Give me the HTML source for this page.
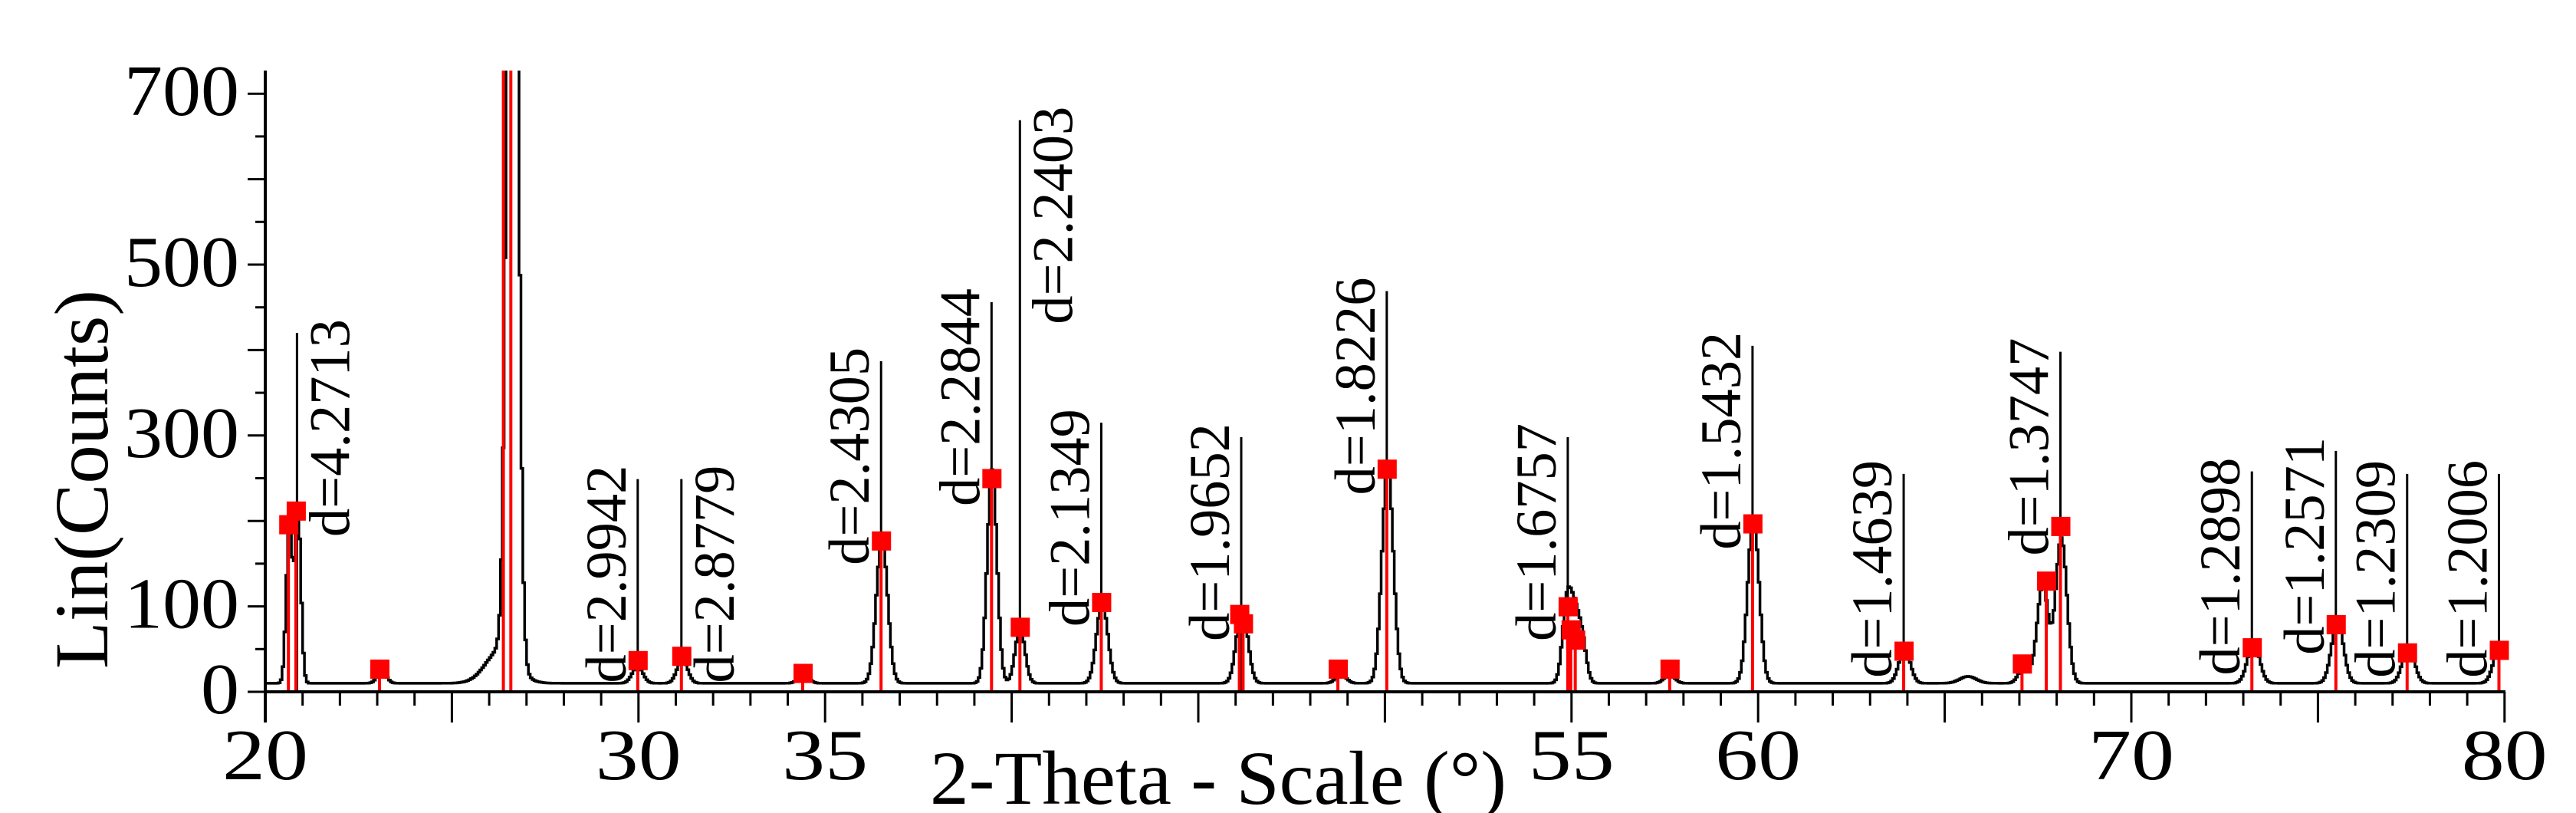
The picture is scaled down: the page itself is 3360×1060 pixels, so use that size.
<!DOCTYPE html>
<html><head><meta charset="utf-8"><style>
html,body{margin:0;padding:0;background:#fff;}
svg{display:block;}
text{font-family:"Liberation Serif",serif;fill:#000;}
</style></head><body>
<svg id="chart" width="3360" height="1060" viewBox="0 0 3360 1060" xmlns="http://www.w3.org/2000/svg">
<defs><clipPath id="plotclip"><rect x="340" y="92" width="2940" height="830"/></clipPath></defs>
<g id="dlines"></g>
<g id="curve" clip-path="url(#plotclip)"></g>
<g id="markers" clip-path="url(#plotclip)"></g>
<g id="axes"></g>
<text transform="translate(140,625) rotate(-90)" text-anchor="middle" font-size="100" textLength="494" lengthAdjust="spacingAndGlyphs">Lin(Counts)</text>
<text x="1213" y="1048" font-size="100" textLength="752" lengthAdjust="spacingAndGlyphs">2-Theta - Scale (°)</text>
</svg>
<script>
// ---- data ----
const peakPos    = [20.62,20.85,23.1,26.6,26.3,29.95,31.15,34.4,36.5,39.45,40.2,42.4,46.15,48.8,50.05,54.85,55.05,55.25,57.6,59.85,63.9,65.6,67.1,67.6,68.1,73.25,75.5,77.4,79.85];
const peakHeight = [185,205,15,1500,40,20,28,10,170,250,65,95,90,10,255,90,65,50,10,195,40,8,20,115,170,48,72,42,45];
const peakWidth  = [0.08,0.08,0.12,0.13,0.4,0.14,0.14,0.14,0.15,0.13,0.13,0.15,0.15,0.14,0.15,0.12,0.12,0.12,0.14,0.15,0.15,0.22,0.14,0.15,0.15,0.16,0.16,0.16,0.16];
const backgroundLevel = [10];
const markerPos    = [20.62,20.82,23.06,26.38,26.58,29.98,31.15,34.4,36.5,39.46,40.22,42.4,46.1,46.2,48.74,50.05,54.9,54.98,55.1,57.63,59.85,63.9,67.07,67.72,68.1,73.23,75.48,77.39,79.85];
const markerHeight = [196,212,27,900,900,37,42,22,177,250,76,105,91,80,27,261,100,73,61,27,197,48,33,130,194,52,79,46,49];
const dLabels = ["d=4.2713","d=2.9942","d=2.8779","d=2.4305","d=2.2844","d=2.2403","d=2.1349","d=1.9652","d=1.8226","d=1.6757","d=1.5432","d=1.4639","d=1.3747","d=1.2898","d=1.2571","d=1.2309","d=1.2006"];
const dPos = [20.85,29.98,31.15,36.5,39.46,40.22,42.4,46.15,50.05,54.9,59.85,63.9,68.1,73.23,75.48,77.39,79.85];
const dTop = [420,249,249,387,456,669,315,298,469,298,405,255,398,258,282,255,255];
const dSide = ["right","left","right","left","left","right","left","left","left","left","left","left","left","left","left","left","left"];
const xTickLabels = [20,30,35,55,60,70,80];
const yTickLabels = [0,100,300,500,700];
// ---- scales ----
const X = v => 346 + (v - 20) * 48.68;
const Y = c => 902 - c * 1.114;
const NS = "http://www.w3.org/2000/svg";
function mk(tag, attrs, parent){ const e=document.createElementNS(NS,tag); for(const k in attrs) e.setAttribute(k,attrs[k]); parent.appendChild(e); return e; }
// curve
const curveG = document.getElementById('curve');
let d = "";
for (let v = 20; v <= 80.001; v += 0.05) {
  let c = backgroundLevel[0];
  for (let i = 0; i < peakPos.length; i++) { const z=(v-peakPos[i])/peakWidth[i]; c += peakHeight[i]*Math.exp(-0.5*z*z); }
  const y = Math.max(Y(c), 80).toFixed(1);
  if (d === "") d = `M${X(v).toFixed(1)},${y}`; else d += ` H${X(v).toFixed(1)} V${y}`;
}
const cp = mk('path', {d:d, fill:'none', stroke:'#000', 'stroke-width':3.5}, curveG);


// d annotations
const dG = document.getElementById('dlines');
for (let i = 0; i < dLabels.length; i++) {
  const x = X(dPos[i]);
  const ln = mk('line', {x1:x, x2:x, y1:Y(0), y2:Y(dTop[i]), stroke:'#000', 'stroke-width':3}, dG);
  
  
  const bx = dSide[i] === 'right' ? x + 68 : x - 16;
  const t = mk('text', {transform:`translate(${bx.toFixed(1)},${(Y(dTop[i]) - 18).toFixed(1)}) rotate(-90)`, 'text-anchor':'end', 'font-size':75, textLength:284, lengthAdjust:'spacingAndGlyphs'}, dG);
  t.textContent = dLabels[i];
  
  
}
// markers
const mG = document.getElementById('markers');
for (let i = 0; i < markerPos.length; i++) {
  const x = X(markerPos[i]), y = Y(markerHeight[i]);
  const l = mk('line', {x1:x, x2:x, y1:Y(0), y2:y, stroke:'#f00', 'stroke-width':4}, mG);
  
  
  const r = mk('rect', {x:x-12, y:y-12, width:25, height:25, fill:'#f00'}, mG);
  
  
}
// axes
const aG = document.getElementById('axes');
const xa = mk('line', {x1:344, x2:3268, y1:902, y2:902, stroke:'#000', 'stroke-width':4}, aG);


const ya = mk('line', {x1:346, x2:346, y1:92, y2:942, stroke:'#000', 'stroke-width':4}, aG);


for (let v = 21; v <= 80; v++) {
  const major = v % 5 === 0;
  const tk = mk('line', {x1:X(v), x2:X(v), y1:902, y2:major ? 942 : 920, stroke:'#000', 'stroke-width':3}, aG);
  
  
}
xTickLabels.forEach(v => {
  const s = String(v);
  const t = mk('text', {x:X(v), y:1016, 'text-anchor':'middle', 'font-size':94, textLength:s.length*56, lengthAdjust:'spacingAndGlyphs'}, aG);
  t.textContent = s;
  
  
});
for (let c = 0; c <= 700; c += 50) {
  const major = c % 100 === 0;
  const tk = mk('line', {x1:major ? 323 : 333, x2:346, y1:Y(c), y2:Y(c), stroke:'#000', 'stroke-width':3}, aG);
  
  
}
yTickLabels.forEach(c => {
  const s = String(c);
  const t = mk('text', {x:312, y:Y(c) + 28, 'text-anchor':'end', 'font-size':94, textLength:s.length*50, lengthAdjust:'spacingAndGlyphs'}, aG);
  t.textContent = s;
  
  
});
</script>
</body></html>
